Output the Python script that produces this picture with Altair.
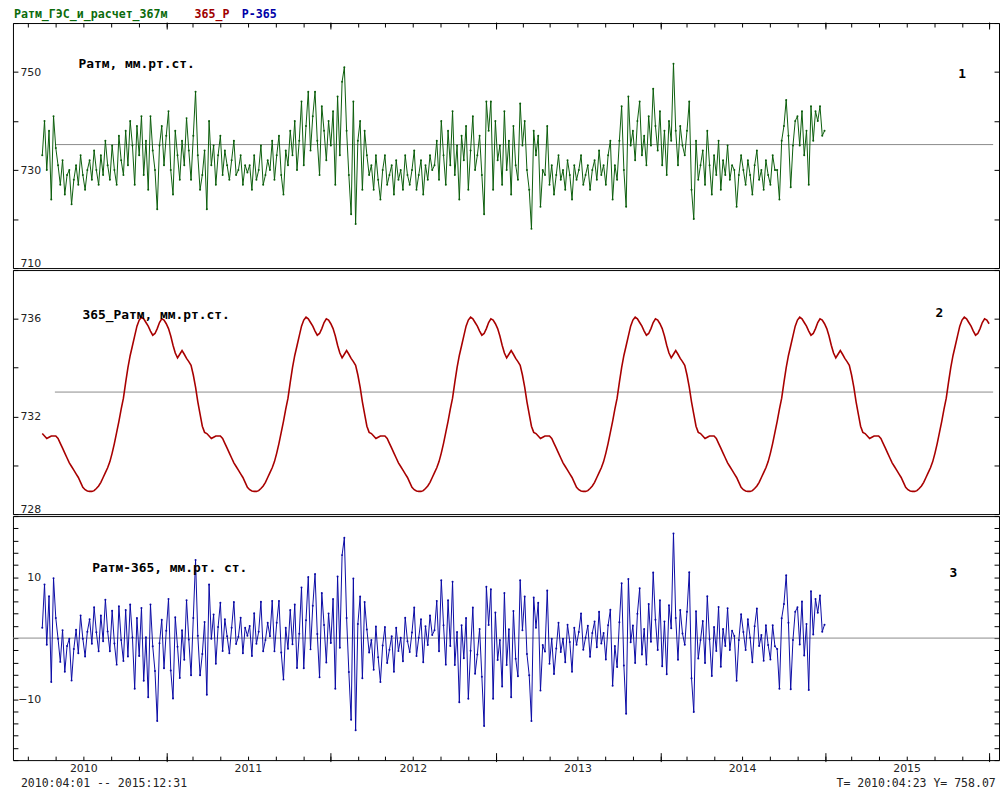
import altair as alt
import pandas as pd

# ---------------- data ----------------
START = "2010-04-01"          # first sample; samples every 5 days
STEP = "5D"

# Ратм, mm Hg (5-day samples), split by year
PATM_2010 = [733, 740, 730, 738, 724, 741, 734.5, 731,
             727, 732, 725, 729, 730, 723, 728, 731, 727, 733, 729, 726, 730, 732, 728, 734, 730, 727,
             733, 729, 736, 731, 728, 735, 730, 727, 737, 732, 729,
             738, 731, 740, 735, 727, 739, 733, 741, 729, 736, 726, 741, 734, 730,
             722, 735, 739, 731]
PATM_2011 = [737,
             742, 730, 725, 738, 733, 728, 736,
             731, 740.6, 734, 728, 737, 746, 733, 726,
             729, 734, 722, 740, 731, 735, 727, 733, 737, 729,
             734, 731, 728, 732, 736, 729, 730, 733, 727, 731,
             729.5, 731, 726, 733, 728, 730, 735, 727, 729, 732,
             730, 736, 728, 733, 737, 729, 725, 734, 731, 738,
             733, 740, 730, 736, 744, 731, 739, 746,
             734, 741, 746, 736, 729, 743, 738, 732, 740]
PATM_2012 = [735, 742, 727, 745, 733, 748, 751, 738, 729, 721,
             744, 719, 736, 740, 726, 738, 733, 729,
             731, 726, 733, 728, 724, 730, 733, 727, 729, 731, 725, 732, 728, 730, 726, 733, 729, 727,
             730, 734, 726, 729, 732, 725, 731, 728, 733, 730,
             731, 736, 728, 740, 733, 727, 738, 731, 742, 729, 735, 724, 737, 732, 739, 726, 734, 741, 730,
             733, 737, 729, 721, 744, 738, 744, 726]
PATM_2013 = [740, 732, 735, 727, 742, 730, 736, 725, 739, 731,
             728, 743.6, 735, 740, 730, 726, 718, 738,
             733, 737, 722.5, 730, 729,
             739, 727, 731, 725, 729, 733, 728, 730, 726, 732, 729, 724, 731, 728, 730, 733, 727, 729,
             731, 726, 730, 732, 728, 734, 729, 731,
             727, 733, 736, 724, 731, 728,
             736, 743, 730, 722.5, 745, 735, 738, 732,
             740, 744, 733, 737, 731, 741, 735, 746.6, 739, 734]
PATM_2014 = [742, 731, 738, 729, 740, 736,
             751.7, 738, 731, 739, 735,
             733, 738, 744, 726, 720, 736, 728, 731,
             734, 727, 738, 731, 725, 733, 729, 736, 726, 732, 729, 735, 728, 731, 730,
             722.5, 729, 733,
             730, 727, 732, 729, 725, 731, 734, 728, 730, 726, 732, 729, 727, 733, 730,
             730, 724, 736, 739, 744.3, 737, 726.5, 735, 740,
             741, 735, 742, 733, 738, 727, 743,
             736, 742, 740, 743, 737, 738]

# 365-day climatology (one year of 5-day values, starting 1 April)
CLIM_YEAR = [731.3, 731.2, 731.1, 731.15, 731.2, 731.2, 731.2, 731.1, 730.9, 730.7,
             730.5, 730.3, 730.1, 729.95, 729.8, 729.65, 729.5, 729.3, 729.1, 729.0,
             728.95, 728.93, 728.93, 728.96, 729.05, 729.15, 729.3, 729.5, 729.7, 729.9,
             730.15, 730.5, 730.9, 731.35, 731.8, 732.3, 732.75, 733.4, 734.0, 734.5,
             734.9, 735.3, 735.7, 735.95, 736.07, 736.0, 735.85, 735.7, 735.5, 735.33,
             735.4, 735.6, 735.85, 736.0, 735.95, 735.8, 735.6, 735.3, 734.92, 734.6,
             734.4, 734.55, 734.7, 734.55, 734.38, 734.25, 734.1, 733.7, 733.2, 732.6,
             732.1, 731.6, 731.35]
CLIM_COUNT = 421                 # 2010-04-01 .. 2015-12-31

MEAN_PATM = 735.2
MEAN_CLIM = 733.0
MEAN_DIFF = 0
MEAN_SPAN = ("2010-04-29", "2016-01-09")
X_DOMAIN = ((2010, 1, 26), (2016, 1, 22))

Y1_DOMAIN, Y1_TICKS = [710, 760], [710, 720, 730, 740, 750, 760]
Y2_DOMAIN, Y2_TICKS = [728, 738], [728, 730, 732, 734, 736, 738]
Y3_DOMAIN, Y3_TICKS = [-20, 20], list(range(-20, 21, 2))

YEARS = [2010, 2011, 2012, 2013, 2014, 2015, 2016]

# ---------------- tables ----------------
patm = PATM_2010 + PATM_2011 + PATM_2012 + PATM_2013 + PATM_2014
df1 = pd.DataFrame({"date": pd.date_range(START, periods=len(patm), freq=STEP), "v": patm})
clim = [CLIM_YEAR[i % len(CLIM_YEAR)] for i in range(CLIM_COUNT)]
df2 = pd.DataFrame({"date": pd.date_range(START, periods=CLIM_COUNT, freq=STEP), "v": clim})
df3 = pd.DataFrame({"date": df1["date"],
                    "v": [p - CLIM_YEAR[i % len(CLIM_YEAR)] for i, p in enumerate(patm)]})

W = 994
H1, H2, H3 = 247, 246, 246

dt = lambda t: alt.DateTime(year=t[0], month=t[1], date=t[2])
XDOM = [dt(X_DOMAIN[0]), dt(X_DOMAIN[1])]
BIMONTH = [alt.DateTime(year=y, month=m, date=1) for y in YEARS for m in (1, 3, 5, 7, 9, 11)
           if (y, m) < (2016, 2) and (y, m) > (2010, 1)]
YEARLY = [alt.DateTime(year=y, month=1, date=1) for y in YEARS[1:]]

LABEL_FONT = "DejaVu Sans"
MONO = "DejaVu Sans Mono"


def x_axis(kind, orient):
    if kind == "minor":
        kw = dict(values=BIMONTH, tickSize=4, offset=-4)
        if orient == "bottom":
            kw.update(labels=True, labelExpr="month(datum.value) == 6 ? timeFormat(datum.value, '%Y') : ''",
                      labelPadding=2, labelFont=LABEL_FONT, labelFontSize=11, labelColor="#222",
                      labelOverlap=False)
        else:
            kw.update(labels=False)
    else:
        kw = dict(values=YEARLY, tickSize=9 if orient == "bottom" else 7,
                  offset=-7.5 if orient == "bottom" else -6, labels=False)
    return alt.Axis(orient=orient, domain=False, grid=False, title=None, tickColor="black", **kw)


def y_left(ticks, expr):
    return alt.Axis(orient="left", values=ticks, labelExpr=expr, tickSize=5, offset=-5,
                    labelPadding=-28, labelAlign="right", labelFlush=True, labelOverlap=False,
                    domain=False, grid=False, title=None, tickColor="black",
                    labelFont=LABEL_FONT, labelFontSize=11, labelColor="#222")


def y_right(ticks):
    return alt.Axis(orient="right", values=ticks, labels=False, tickSize=5, offset=-5,
                    domain=False, grid=False, title=None, tickColor="black")


def label(txt, x, y, color="black", size=13, weight="bold", align="left", font=MONO):
    return alt.Chart(pd.DataFrame({"t": [txt]})).mark_text(
        align=align, baseline="middle", font=font, fontSize=size, fontWeight=weight, color=color
    ).encode(x=alt.value(x), y=alt.value(y), text="t:N")


def panel(df, color, width_px, ydom, yticks, expr, mean, span, xtop, xbottom, point, texts, h):
    if xtop:
        ax_a, ax_b = x_axis("minor", "top"), x_axis("major", "top")
    elif xbottom:
        ax_a, ax_b = x_axis("minor", "bottom"), x_axis("major", "bottom")
    else:
        ax_a = ax_b = None
    xs = alt.Scale(domain=XDOM)
    ys = alt.Scale(domain=ydom, nice=False, zero=False)
    mk = dict(color=color, strokeWidth=width_px)
    if point:
        mk["point"] = alt.OverlayMarkDef(filled=True, size=4, color=color)
    line = alt.Chart(df).mark_line(**mk).encode(
        x=alt.X("date:T", scale=xs, axis=ax_a),
        y=alt.Y("v:Q", scale=ys, axis=y_left(yticks, expr)),
    )
    mdf = pd.DataFrame({"x1": [pd.Timestamp(span[0])], "x2": [pd.Timestamp(span[1])], "m": [mean]})
    rule = alt.Chart(mdf).mark_rule(color="#8a8a8a", strokeWidth=1).encode(
        x=alt.X("x1:T", scale=xs, axis=ax_b),
        x2="x2:T",
        y=alt.Y("m:Q", scale=ys, axis=y_right(yticks)),
    )
    return alt.layer(rule, line, *texts).resolve_axis(x="independent", y="independent").properties(
        width=W, height=h)


p1 = panel(df1, "#0b5d0b", 1, Y1_DOMAIN, Y1_TICKS, "datum.value % 20 == 10 ? datum.label : ''",
           MEAN_PATM, MEAN_SPAN, True, False, True,
           [label("Ратм, мм.рт.ст.", 66, 41), label("1", 953, 51),
            label("Ратм_ГЭС_и_расчет_367м", 1, -9, color="#0b6b0b", size=11.7),
            label("365_Р", 183, -9, color="#a00000", size=11.7),
            label("Р-365", 230.7, -9, color="#0000a8", size=11.7)], H1)

p2 = panel(df2, "#a80000", 1.6, Y2_DOMAIN, Y2_TICKS, "datum.value % 4 == 0 ? datum.label : ''",
           MEAN_CLIM, MEAN_SPAN, False, False, False,
           [label("365_Ратм, мм.рт.ст.", 70, 45), label("2", 930, 43)], H2)

p3 = panel(df3, "#0a0aa5", 1, Y3_DOMAIN, Y3_TICKS, "abs(datum.value) == 10 ? datum.label : ''",
           MEAN_DIFF, ("2010-01-26", "2016-01-22"), False, True, True,
           [label("Ратм-365, мм.рт. ст.", 80, 52), label("3", 944, 57),
            label("2010:04:01 -- 2015:12:31", 8, 270, color="#222", size=11.6, weight="normal"),
            label("T= 2010:04:23  Y= 758.07", 990.7, 270, color="#222", size=11.6,
                  weight="normal", align="right")], H3)

chart = alt.vconcat(p1, p2, p3, spacing=0).properties(
    padding={"left": 4, "top": -3, "right": 0, "bottom": 0}
).configure_view(stroke="black", strokeWidth=1).configure_concat(spacing=0)

chart.save("out.html", embed_options={"renderer": "svg", "actions": False})
